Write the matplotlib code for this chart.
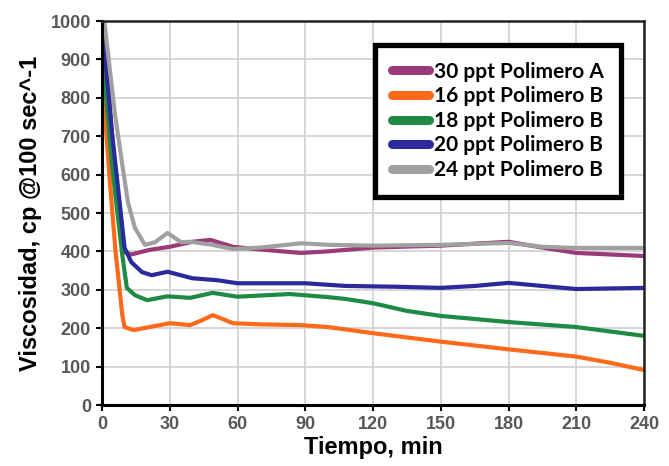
import numpy as np
import matplotlib.pyplot as plt

# Viscosity vs time for five polymer loadings

t_a30 = [0, 2, 5, 8, 10, 13, 21, 30, 40, 48, 58, 70, 88, 100, 120, 150, 180, 195, 210, 240]
v_a30 = [1000, 900, 650, 460, 398, 392, 404, 412, 425, 430, 412, 405, 396, 400, 410, 415, 425, 410, 396, 388]

t_b16 = [0, 3.5, 6, 9, 10, 14, 21, 30, 39, 44, 49, 53, 58, 70, 88, 100, 120, 150, 180, 210, 225, 240]
v_b16 = [860, 580, 400, 234, 203, 195, 203, 213, 208, 220, 234, 225, 213, 210, 208, 203, 187, 165, 145, 126, 110, 91]

t_b18 = [0, 4.4, 9, 11, 14.6, 20, 29, 39, 49, 60, 83, 100, 108, 120, 135, 150, 180, 210, 240]
v_b18 = [930, 625, 390, 305, 286, 273, 283, 279, 292, 282, 289, 281, 276, 265, 245, 232, 216, 203, 180]

t_b20 = [0, 4.4, 10, 13, 17.7, 22, 29, 40, 51, 60, 90, 108, 130, 150, 165, 180, 195, 210, 240]
v_b20 = [1000, 711, 409, 372, 346, 338, 347, 330, 325, 317, 317, 310, 308, 305, 310, 318, 310, 302, 305]

t_b24 = [0, 1, 5.8, 9, 11.5, 14.6, 19, 23.5, 29, 35, 39, 48, 58, 70, 88, 101, 120, 150, 180, 195, 210, 240]
v_b24 = [1000, 1000, 755, 625, 528, 461, 417, 424, 448, 424, 425, 418, 406, 410, 421, 417, 415, 417, 422, 412, 409, 409]

labels = ['30 ppt Polimero A', '16 ppt Polimero B', '18 ppt Polimero B',
          '20 ppt Polimero B', '24 ppt Polimero B']
colors = ['#9a3a78', '#ff6a1a', '#1f8a44', '#2a2a9c', '#a0a0a0']

x_ticks = [0, 30, 60, 90, 120, 150, 180, 210, 240]
y_ticks = [0, 100, 200, 300, 400, 500, 600, 700, 800, 900, 1000]

plt.close('all')
plt.rcParams['font.family'] = ['Liberation Sans', 'DejaVu Sans']
fig = plt.figure(figsize=(6.69, 4.66), dpi=100)
ax = fig.add_axes([102 / 669, 1 - 405 / 466, 542 / 669, 384 / 466])

series = [(t_a30, v_a30), (t_b16, v_b16), (t_b18, v_b18), (t_b20, v_b20), (t_b24, v_b24)]
for (tt, vv), lab, col in zip(series, labels, colors):
    ax.plot(tt, vv, color=col, lw=3, label=lab, solid_capstyle='round', solid_joinstyle='round')

ax.set_xlim(0, 240)
ax.set_ylim(0, 1000)
ax.set_xticks(x_ticks)
ax.set_yticks(y_ticks)
ax.grid(True, color='#d0d0d0', lw=1.2)
ax.set_axisbelow(True)

for lbl in ax.get_xticklabels() + ax.get_yticklabels():
    lbl.set_fontsize(13)
    lbl.set_color('#585858')
    lbl.set_fontweight('bold')
ax.tick_params(direction='out', length=4, width=1.5, color='black', pad=4)

for side in ['left', 'bottom']:
    ax.spines[side].set_linewidth(2.2)
for side in ['top', 'right']:
    ax.spines[side].set_linewidth(1.8)
    ax.spines[side].set_color('#222222')

ax.set_xlabel('Tiempo, min', fontsize=17, fontweight='bold', labelpad=2)
ax.set_ylabel('Viscosidad, cp @100 sec^-1', fontsize=17, fontweight='bold', labelpad=6)

leg = ax.legend(loc='upper left', bbox_to_anchor=((375 - 102) / 542, (405 - 45) / 384),
                borderaxespad=0, frameon=True, fancybox=False, handlelength=1.8,
                handletextpad=0.25, labelspacing=0.22, borderpad=0.8,
                prop={'family': 'Lato', 'weight': 'bold', 'size': 15})
leg.get_frame().set_edgecolor('black')
leg.get_frame().set_linewidth(3.8)
leg.get_frame().set_alpha(1)
for h in leg.get_lines():
    h.set_linewidth(6.5)
    h.set_solid_capstyle('round')

fig.savefig('out.png', dpi=100)
